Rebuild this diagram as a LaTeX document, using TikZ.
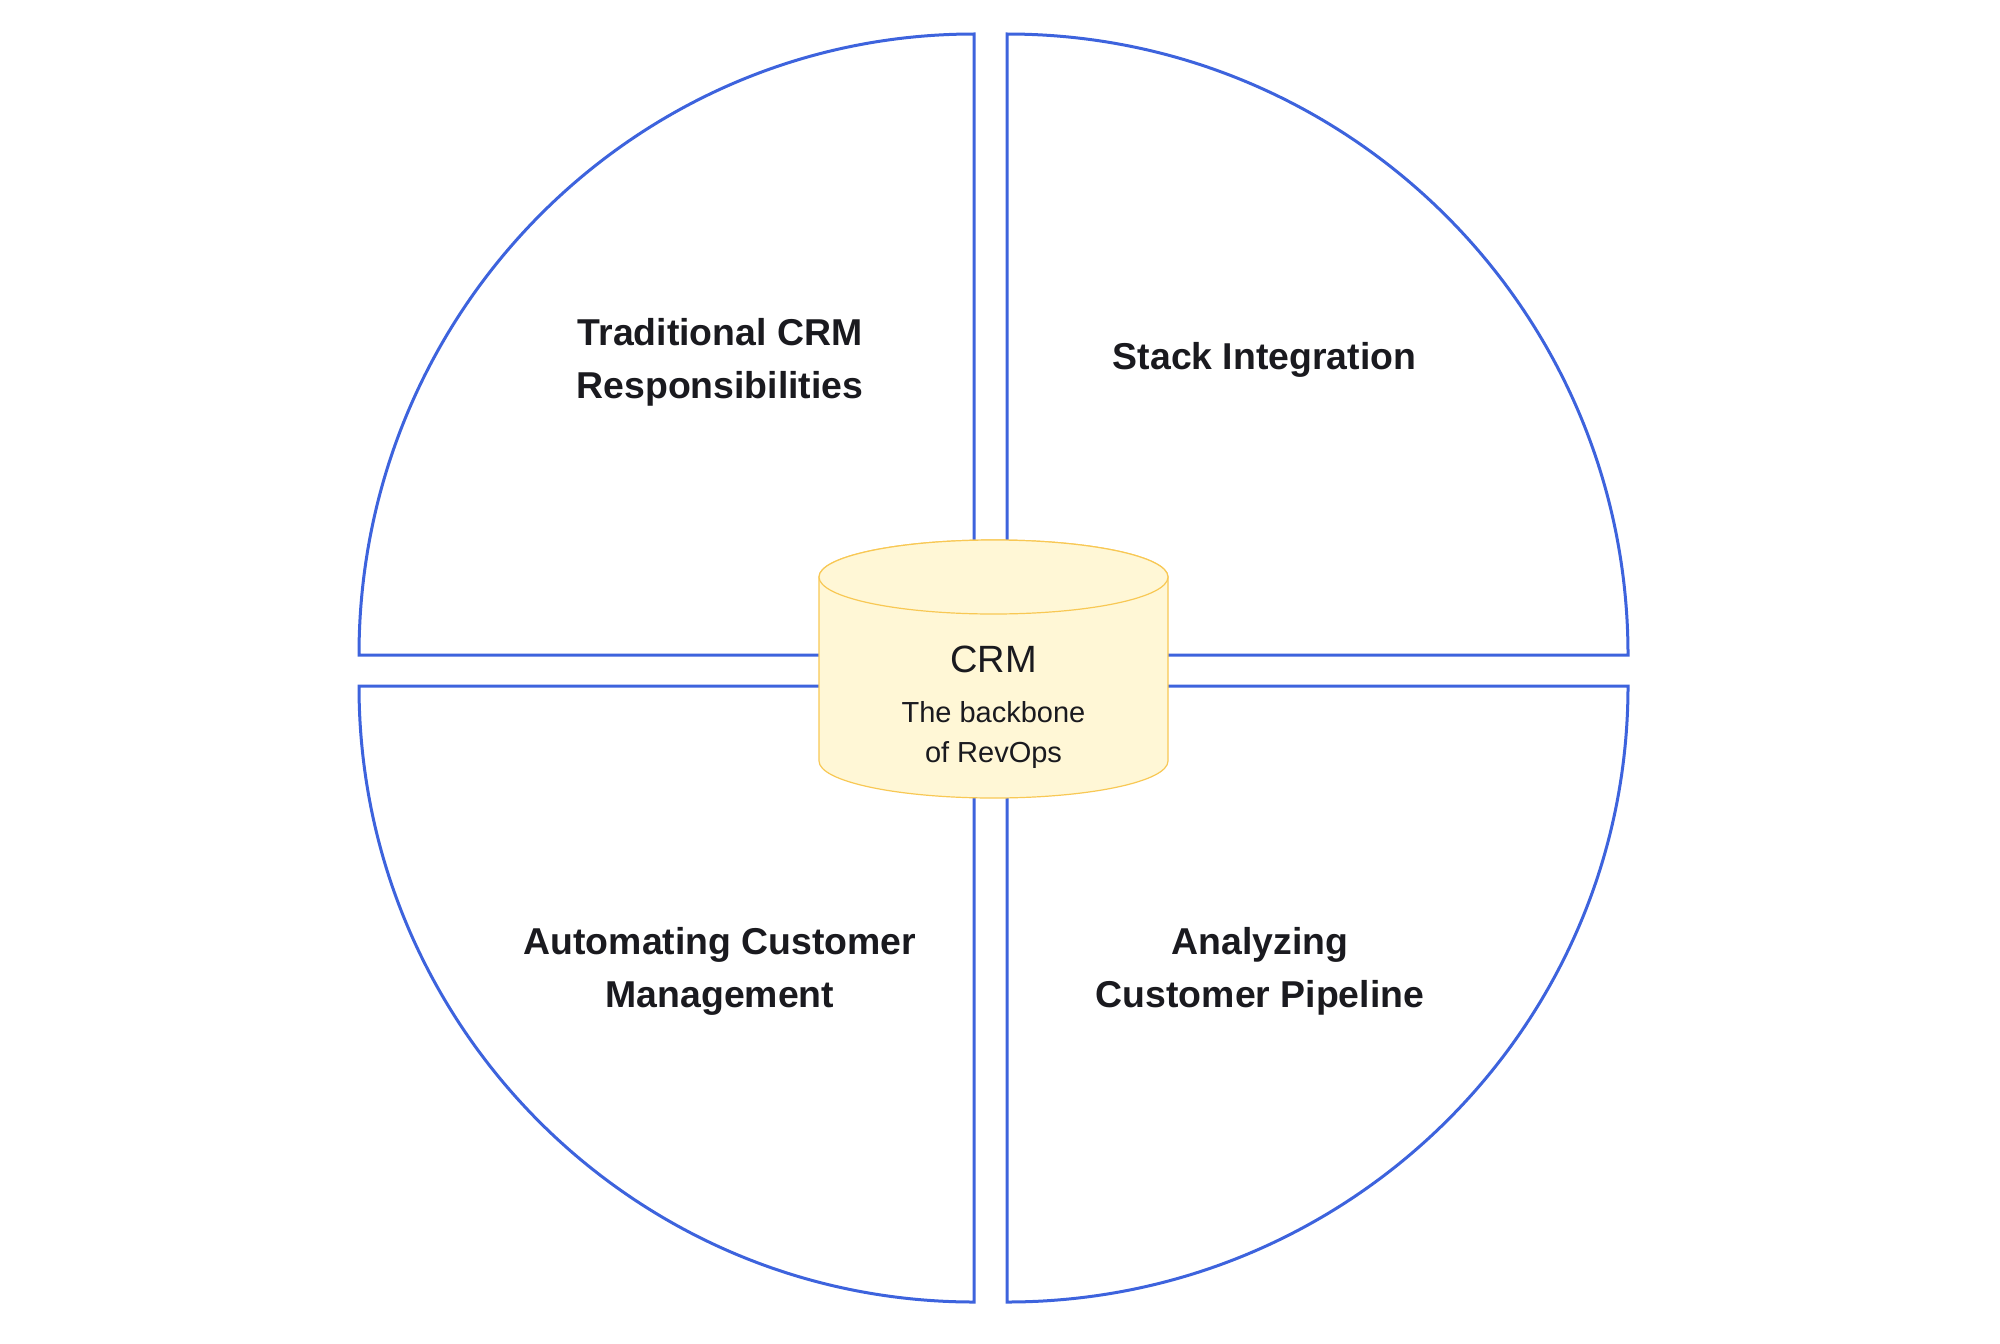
\documentclass[tikz,border=0pt]{standalone}
\usepackage{fontspec}
\setmainfont{Liberation Sans}
\usepackage{tikz}
\usetikzlibrary{positioning}
\usetikzlibrary{calc}

\definecolor{quadblue}{RGB}{61,99,221}
\definecolor{crmfill}{RGB}{255,247,214}
\definecolor{crmedge}{RGB}{248,200,84}
\definecolor{inkdark}{RGB}{26,26,31}

\begin{document}
\begin{tikzpicture} [
            x=0.5pt, y=-0.5pt,
            quad/.style={draw=quadblue, line width=1.5pt, fill=white, line join=miter},
            quadlabel/.style={font=\fontsize{18.7}{26.5}\selectfont\bfseries, text=inkdark, align=center, inner sep=0pt},
            crmbody/.style={draw=crmedge, line width=0.6pt, fill=crmfill},
            crmtitle/.style={font=\fontsize{19}{23}\selectfont, text=inkdark, inner sep=0pt},
            crmsub/.style={font=\fontsize{14.5}{20}\selectfont, text=inkdark, align=center, inner sep=0pt}
        ]
        \useasboundingbox (0,0) rectangle (2000,1343);
        % four quarters
        \draw[quad] (974,655) -- (359,655) arc[start angle=180, end angle=270, x radius=615, y radius=621] -- cycle;
        \draw[quad] (1007,655) -- (1007,34) arc[start angle=270, end angle=360, x radius=621, y radius=621] -- cycle;
        \draw[quad] (974,686) -- (359,686) arc[start angle=180, end angle=90, x radius=615, y radius=616] -- cycle;
        \draw[quad] (1007,686) -- (1628,686) arc[start angle=0, end angle=90, x radius=621, y radius=616] -- cycle;
        \node[quadlabel] (trad) at (720,362) {Traditional CRM\\Responsibilities};
        \node[quadlabel] (stack) at (1264.5,359.5) {Stack Integration};
        \node[quadlabel] (auto) at (720,971) {Automating Customer\\Management};
        \node[quadlabel] (pipe) at (1260,971) {Analyzing\\Customer Pipeline};
        % the cylinder in the middle
        \draw[crmbody] (819,577) -- (819,761) arc[start angle=180, end angle=0, x radius=174.5, y radius=37]
        -- (1168,577) arc[start angle=0, end angle=-180, x radius=174.5, y radius=37] -- cycle;
        \draw[crmbody] (993.5,577) ellipse[x radius=174.5, y radius=37];
        \node[crmtitle, anchor=base] (crm) at (993.5,672) {CRM};
        \node[crmsub] (crmnote) at (993.5,734.5) {The backbone\\of RevOps};
    \end{tikzpicture}
\end{document}
